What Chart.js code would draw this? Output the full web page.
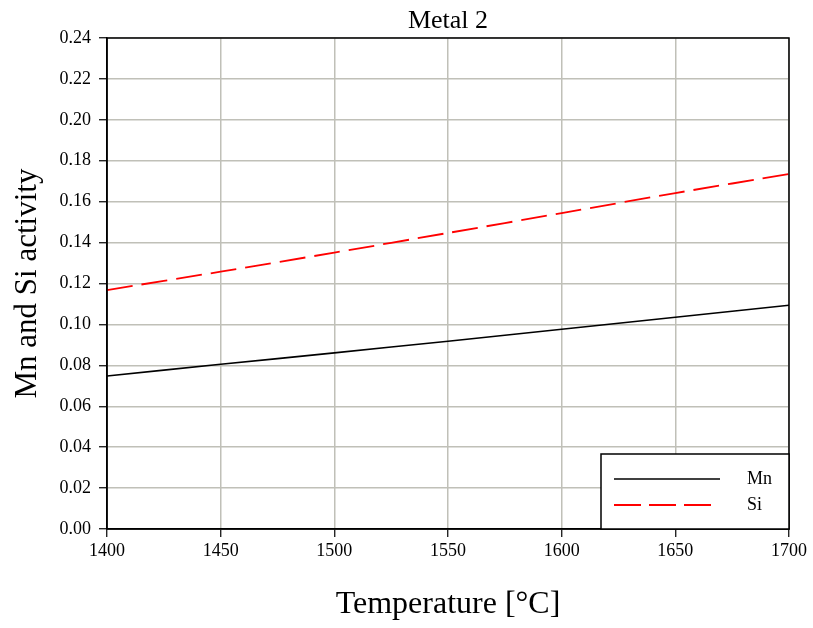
<!DOCTYPE html>
<html>
<head>
<meta charset="utf-8">
<script src="https://cdn.jsdelivr.net/npm/chart.js@4.4.1/dist/chart.umd.min.js"></script>
<style>
  html, body { margin: 0; padding: 0; background: #fff; }
  #wrap { width: 813px; height: 628px; }
</style>
</head>
<body>
<div id="wrap"><canvas id="c" width="813" height="628"></canvas></div>
<script>
// Temperatures (°C) and computed activities of Mn and Si in metal 2
const temperatures = [1400, 1450, 1500, 1550, 1600, 1650, 1700];
const mnActivity = [0.0748, 0.0805, 0.0861, 0.0918, 0.0976, 0.1035, 0.1094];
const siActivity = [0.1168, 0.1258, 0.1351, 0.1447, 0.1544, 0.1642, 0.1735];
const seriesNames = ['Mn', 'Si'];
const yTicks = [0, 0.02, 0.04, 0.06, 0.08, 0.10, 0.12, 0.14, 0.16, 0.18, 0.20, 0.22, 0.24];

const SERIF = "'Liberation Serif', 'DejaVu Serif', serif";
const GRID = '#c0c0b8';

const toPoints = vals => temperatures.map((t, i) => ({ x: t, y: vals[i] }));

// Frame around the plot area (top and right edges)
const framePlugin = {
  id: 'frame',
  afterDatasetsDraw(chart) {
    const { ctx, chartArea: a } = chart;
    ctx.save();
    ctx.strokeStyle = '#000';
    ctx.lineWidth = 1.5;
    ctx.strokeRect(a.left, a.top, a.right - a.left, a.bottom - a.top);
    ctx.restore();
  }
};

// Legend box in the lower-right corner of the plot area
const cornerLegend = {
  id: 'cornerLegend',
  afterDraw(chart) {
    const { ctx, chartArea: a } = chart;
    const w = 188, h = 75;
    const x0 = a.right - w, y0 = a.bottom - h;
    ctx.save();
    ctx.fillStyle = '#fff';
    ctx.fillRect(x0, y0, w, h);
    ctx.strokeStyle = '#000';
    ctx.lineWidth = 1.5;
    ctx.strokeRect(x0, y0, w, h);
    chart.data.datasets.forEach((ds, i) => {
      const y = y0 + 25 + i * 26;
      const dashed = !!ds.borderDash;
      ctx.beginPath();
      ctx.strokeStyle = ds.borderColor;
      ctx.lineWidth = ds.borderWidth;
      ctx.setLineDash(dashed ? [27, 8] : []);
      ctx.moveTo(x0 + 13, y);
      ctx.lineTo(x0 + (dashed ? 110 : 119), y);
      ctx.stroke();
      ctx.setLineDash([]);
      ctx.fillStyle = '#000';
      ctx.font = '18px ' + SERIF;
      ctx.textAlign = 'left';
      ctx.textBaseline = 'middle';
      ctx.fillText(ds.label, x0 + 146, y);
    });
    ctx.restore();
  }
};

new Chart(document.getElementById('c'), {
  type: 'line',
  data: {
    datasets: [
      {
        label: seriesNames[0],
        data: toPoints(mnActivity),
        borderColor: '#000000',
        borderWidth: 1.6,
        pointRadius: 0,
        tension: 0.3,
        fill: false
      },
      {
        label: seriesNames[1],
        data: toPoints(siActivity),
        borderColor: '#ff0000',
        borderWidth: 1.8,
        borderDash: [26, 9],
        pointRadius: 0,
        tension: 0.3,
        fill: false
      }
    ]
  },
  options: {
    responsive: false,
    animation: false,
    devicePixelRatio: 1,
    layout: { padding: { left: 0, right: 24, top: 0, bottom: 0 } },
    plugins: {
      legend: { display: false },
      tooltip: { enabled: false },
      title: {
        display: true,
        text: 'Metal 2',
        color: '#000',
        fullSize: false,
        font: { family: SERIF, size: 26, weight: 'normal', lineHeight: 1.2 },
        padding: { top: 6, bottom: 0.8 }
      }
    },
    scales: {
      x: {
        type: 'linear',
        min: 1400,
        max: 1700,
        afterFit(scale) { scale.height = 99; },
        ticks: {
          stepSize: 50,
          color: '#000',
          padding: 3,
          maxRotation: 0,
          font: { family: SERIF, size: 18 },
          callback: v => String(v)
        },
        grid: {
          color: GRID,
          lineWidth: 1.5,
          tickColor: '#000',
          tickLength: 8,
          tickWidth: 1.2
        },
        border: { color: '#000', width: 1.5 },
        title: {
          display: true,
          text: 'Temperature [°C]',
          color: '#000',
          font: { family: SERIF, size: 32, lineHeight: 1.2 },
          padding: { top: 0, bottom: 4 }
        }
      },
      y: {
        type: 'linear',
        min: 0,
        max: 0.24,
        afterFit(scale) { scale.width = 107; },
        afterBuildTicks(scale) { scale.ticks = yTicks.map(v => ({ value: v })); },
        ticks: {
          color: '#000',
          padding: 8,
          font: { family: SERIF, size: 18 },
          callback: v => Number(v).toFixed(2)
        },
        grid: {
          color: GRID,
          lineWidth: 1.5,
          tickColor: '#000',
          tickLength: 8,
          tickWidth: 1.2
        },
        border: { color: '#000', width: 1.5 },
        title: {
          display: true,
          text: 'Mn and Si activity',
          color: '#000',
          font: { family: SERIF, size: 31, lineHeight: 1.2 },
          padding: { top: 9, bottom: 0 }
        }
      }
    }
  },
  plugins: [framePlugin, cornerLegend]
});
</script>
</body>
</html>
